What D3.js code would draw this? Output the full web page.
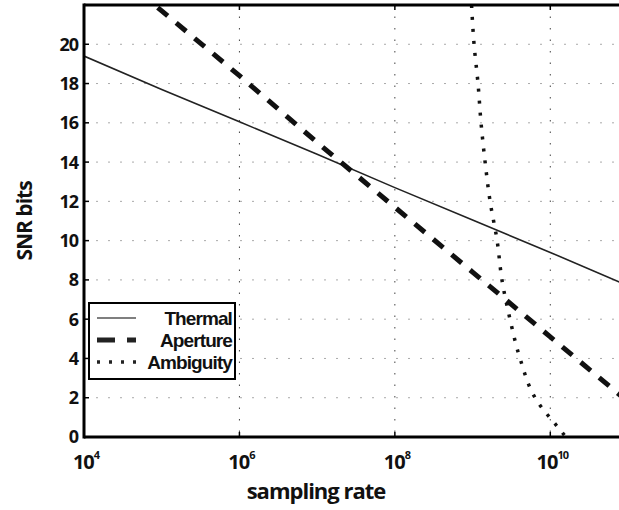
<!DOCTYPE html>
<html>
<head>
<meta charset="utf-8">
<script src="https://cdn.jsdelivr.net/npm/d3@7"></script>
<style>
body { margin: 0; background: #fff; }
text { font-family: "Open Sans", "DejaVu Sans", sans-serif; font-weight: 700; fill: #111; }
</style>
</head>
<body>
<div id="chart"></div>
<script>
// chart size
var width = 619, height = 510;
var margin = {left: 84, top: 5, bottom: 73};

// data (x = sampling rate, y = SNR bits)
var thermalRate = [1e4, 1e5, 1e6, 1e7, 1e8, 1e9, 1e10, 1e11];
var thermalBits = [19.4, 17.7, 16.05, 14.4, 12.7, 11.05, 9.4, 7.7];

var apertureRate = [1e4, 1e5, 1e6, 1e7, 1e8, 1e9, 1e10, 1e11];
var apertureBits = [25.0, 21.7, 18.4, 15.0, 11.7, 8.4, 5.1, 1.8];

var ambiguityRate = [9.7e8, 1.045e9, 1.175e9, 1.285e9, 1.45e9, 1.68e9, 2.07e9, 2.39e9, 3.03e9, 4.08e9, 6.37e9, 1.58e10, 2.4e10];
var ambiguityBits = [22, 20, 18, 16, 14, 12, 10, 8, 6, 4, 2, 0, -1];

var xTicks = [1e4, 1e6, 1e8, 1e10];
var yTicks = [0, 2, 4, 6, 8, 10, 12, 14, 16, 18, 20];
var legendLabels = ["Thermal", "Aperture", "Ambiguity"];

var x = d3.scaleLog().domain([1e4, 1e11]).range([margin.left, 628]);
var y = d3.scaleLinear().domain([0, 22]).range([height - margin.bottom, margin.top]);

var svg = d3.select("#chart").append("svg")
    .attr("width", width)
    .attr("height", height);

svg.append("clipPath").attr("id", "plot")
  .append("rect")
    .attr("x", margin.left).attr("y", margin.top)
    .attr("width", 628 - margin.left).attr("height", y(0) - margin.top);

// grid
svg.append("g").selectAll("line")
    .data(yTicks.filter(d => d > 0))
    .enter().append("line")
    .attr("x1", margin.left).attr("x2", width)
    .attr("y1", d => y(d)).attr("y2", d => y(d))
    .style("stroke", "#aaa").style("stroke-width", 1)
    .style("stroke-dasharray", "2,10");

svg.append("g").selectAll("line")
    .data(xTicks.slice(1))
    .enter().append("line")
    .attr("x1", d => x(d)).attr("x2", d => x(d))
    .attr("y1", margin.top).attr("y2", y(0))
    .style("stroke", "#444").style("stroke-width", 1)
    .style("stroke-dasharray", "1.5,10");

// curves
var line = d3.line().x(d => x(d[0])).y(d => y(d[1]));
var curves = svg.append("g").attr("clip-path", "url(#plot)");

curves.append("path")
    .datum(d3.zip(thermalRate, thermalBits))
    .attr("d", line)
    .style("fill", "none").style("stroke", "#222").style("stroke-width", 1.6);

curves.append("path")
    .datum(d3.zip(apertureRate, apertureBits))
    .attr("d", line)
    .style("fill", "none").style("stroke", "#111").style("stroke-width", 5)
    .style("stroke-dasharray", "13,11");

curves.append("path")
    .datum(d3.zip(ambiguityRate, ambiguityBits))
    .attr("d", line.curve(d3.curveMonotoneY))
    .style("fill", "none").style("stroke", "#111").style("stroke-width", 3.5)
    .style("stroke-dasharray", "3,9");

// axes box
var box = svg.append("g").style("stroke", "#000").style("stroke-width", 3);
box.append("line").attr("x1", margin.left).attr("x2", margin.left).attr("y1", margin.top - 1.5).attr("y2", y(0) + 1.5);
box.append("line").attr("x1", margin.left).attr("x2", width).attr("y1", y(0)).attr("y2", y(0));
box.append("line").attr("x1", margin.left).attr("x2", width).attr("y1", margin.top).attr("y2", margin.top);

// ticks
svg.append("g").selectAll("line")
    .data(yTicks)
    .enter().append("line")
    .attr("x1", margin.left).attr("x2", margin.left + 5)
    .attr("y1", d => y(d)).attr("y2", d => y(d))
    .style("stroke", "#000").style("stroke-width", 1.5);

svg.append("g").selectAll("line")
    .data(xTicks)
    .enter().append("line")
    .attr("x1", d => x(d)).attr("x2", d => x(d))
    .attr("y1", y(0)).attr("y2", y(0) - 5)
    .style("stroke", "#000").style("stroke-width", 1.5);

svg.append("g").selectAll("line")
    .data(xTicks)
    .enter().append("line")
    .attr("x1", d => x(d)).attr("x2", d => x(d))
    .attr("y1", margin.top).attr("y2", margin.top + 5)
    .style("stroke", "#000").style("stroke-width", 1.5);

// tick labels
svg.append("g").selectAll("text")
    .data(yTicks)
    .enter().append("text")
    .attr("x", 78).attr("y", d => y(d))
    .attr("dy", "0.36em")
    .attr("text-anchor", "end")
    .style("font-size", "18px")
    .style("letter-spacing", "-1px")
    .text(d => d);

var xl = svg.append("g").selectAll("text")
    .data(xTicks)
    .enter().append("text")
    .attr("x", d => x(d) + 2).attr("y", 469)
    .attr("text-anchor", "middle")
    .style("font-size", "20px")
    .style("letter-spacing", "-1px");
xl.append("tspan").text("10");
xl.append("tspan")
    .attr("dy", -10)
    .style("font-size", "11px")
    .text(d => Math.round(Math.log10(d)));

// axis titles
svg.append("text")
    .attr("transform", "translate(32," + (y(0) + margin.top) / 2 + ") rotate(-90)")
    .attr("text-anchor", "middle")
    .style("font-size", "21px")
    .style("letter-spacing", "-1px")
    .text("SNR bits");

svg.append("text")
    .attr("x", 316).attr("y", 499)
    .attr("text-anchor", "middle")
    .style("font-size", "22px")
    .style("letter-spacing", "-1px")
    .text("sampling rate");

// legend
var legend = svg.append("g");
legend.append("rect")
    .attr("x", 89).attr("y", 303).attr("width", 146).attr("height", 76)
    .style("fill", "#fff").style("stroke", "#000").style("stroke-width", 2);

var legendStyles = [
    {w: 1.6, dash: null},
    {w: 5, dash: "18,12"},
    {w: 3.5, dash: "3,9"}
];
legendLabels.forEach(function(name, i) {
    var ly = 318 + i * 22;
    legend.append("line")
        .attr("x1", 97).attr("x2", 136)
        .attr("y1", ly).attr("y2", ly)
        .style("stroke", i === 0 ? "#555" : "#222")
        .style("stroke-width", legendStyles[i].w)
        .style("stroke-dasharray", legendStyles[i].dash);
    legend.append("text")
        .attr("x", 232).attr("y", ly)
        .attr("dy", "0.35em")
        .attr("text-anchor", "end")
        .style("font-family", "'Liberation Sans', Arial, sans-serif")
        .style("font-size", "19px")
        .style("letter-spacing", "-0.9px")
        .text(name);
});
</script>
</body>
</html>
